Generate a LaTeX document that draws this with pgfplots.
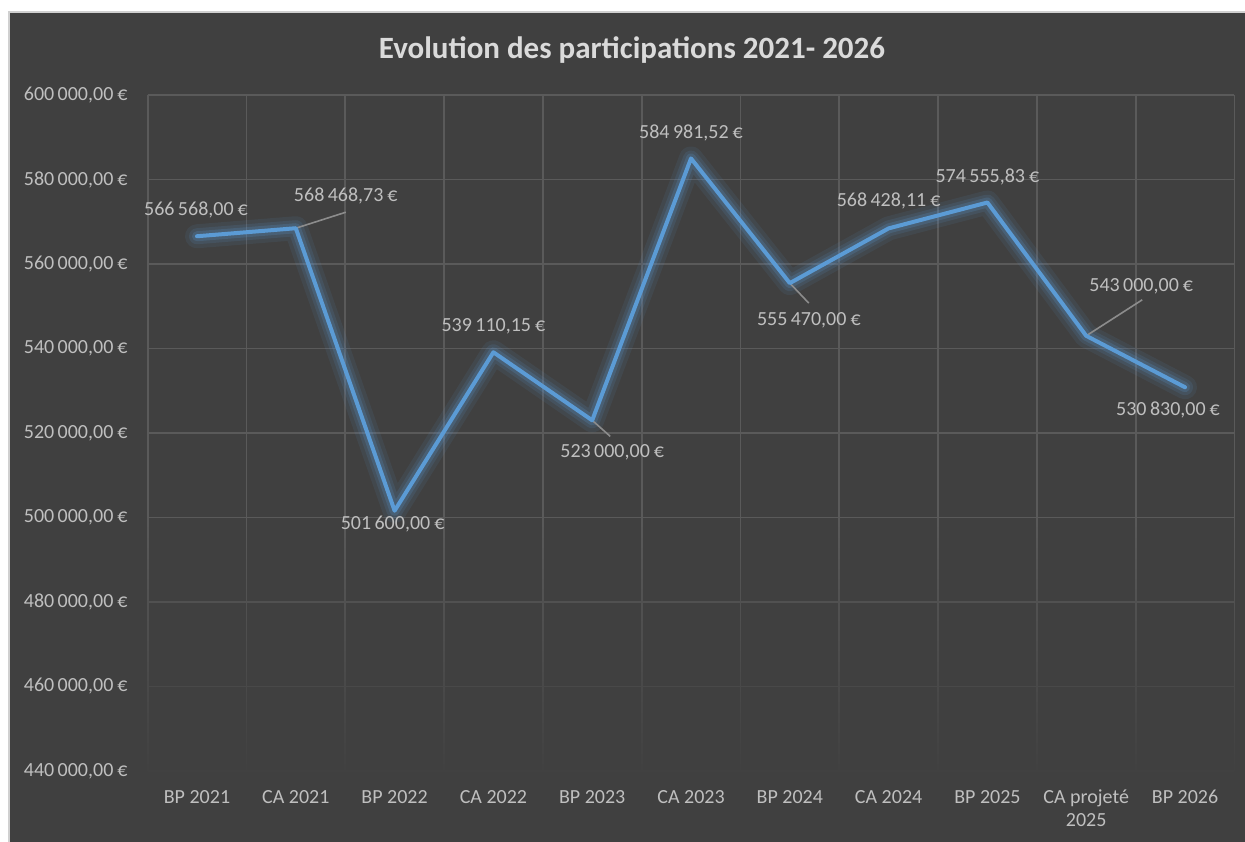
\documentclass[border=0pt]{standalone}
\usepackage{pgfplots}
\pgfplotsset{compat=1.18}
\usepackage{fontspec}
\setmainfont{Carlito}
\usetikzlibrary{fadings}

\definecolor{bgdark}{HTML}{404040}
\definecolor{gridgray}{HTML}{5A5A5A}
\definecolor{txtgray}{HTML}{BFBFBF}
\definecolor{titlegray}{HTML}{DADADA}
\definecolor{lineblue}{HTML}{5B9BD5}
\definecolor{leader}{HTML}{8C8C8C}
\definecolor{framegray}{HTML}{D0D0D0}

\begin{document}
\begin{tikzpicture}[x=0.5pt,y=0.5pt]
\clip (0,0) rectangle (1245,841);
\fill[white] (0,0) rectangle (1245,841);
\fill[bgdark] (9,-10) rectangle (1260,829);
\draw[framegray, line width=1pt] (9,-10) -- (9,829) -- (1260,829);

\node[font=\bfseries\fontsize{15.5}{18}\selectfont, text=titlegray] at (632,791)
  {Evolution des participations 2021- 2026};

\begin{axis}[
  at={(73.8pt,35pt)}, anchor=south west,
  scale only axis, width=543.4pt, height=338pt,
  xmin=-0.5, xmax=10.5, ymin=440000, ymax=600000,
  axis line style={draw=none},
  major tick length=0pt, minor tick length=0pt,
  xtick={0,1,...,10},
  minor xtick={-0.5,0.5,...,10.5},
  xmajorgrids=false, xminorgrids=true, ymajorgrids=true,
  grid style={gridgray, line width=0.9pt},
  minor grid style={gridgray, line width=0.9pt},
  xticklabels={BP 2021, CA 2021, BP 2022, CA 2022, BP 2023, CA 2023, BP 2024, CA 2024, BP 2025, {CA projeté\\2025}, BP 2026},
  xticklabel style={anchor=north, yshift=-6pt, align=center, text=txtgray, font=\fontsize{10}{11.5}\selectfont},
  ytick={440000,460000,...,600000},
  scaled y ticks=false,
  yticklabel style={anchor=east, xshift=-6.5pt, text=txtgray, font=\fontsize{10}{12}\selectfont},
  /pgf/number format/assume math mode=true,
  yticklabel={\pgfmathprintnumber[fixed, fixed zerofill, precision=2, use comma, 1000 sep={\kern0.17em}]{\tick}\kern0.2em€},
  clip=false,
]
% fade of the grid towards the bottom
\fill[bgdark, path fading=north] (axis cs:-0.55,437000) rectangle (axis cs:10.55,500000);

\addplot[lineblue, opacity=0.09, line width=12pt, line join=round, line cap=round, forget plot] coordinates {
  (0,566568) (1,568468.73) (2,501600) (3,539110.15) (4,523000) (5,584981.52)
  (6,555470) (7,568428.11) (8,574555.83) (9,543000) (10,530830)};
\addplot[lineblue, opacity=0.13, line width=8pt, line join=round, line cap=round, forget plot] coordinates {
  (0,566568) (1,568468.73) (2,501600) (3,539110.15) (4,523000) (5,584981.52)
  (6,555470) (7,568428.11) (8,574555.83) (9,543000) (10,530830)};
\addplot[lineblue, opacity=0.2, line width=5pt, line join=round, line cap=round, forget plot] coordinates {
  (0,566568) (1,568468.73) (2,501600) (3,539110.15) (4,523000) (5,584981.52)
  (6,555470) (7,568428.11) (8,574555.83) (9,543000) (10,530830)};

% leader lines
\draw[leader, line width=0.8pt] (axis cs:1,568468.73) -- ++(25pt,8pt);
\draw[leader, line width=0.8pt] (axis cs:4,523000) -- ++(9pt,-8pt);
\draw[leader, line width=0.8pt] (axis cs:6,555470) -- ++(9.5pt,-10pt);
\draw[leader, line width=0.8pt] (axis cs:9,543000) -- ++(28pt,18pt);

\addplot[lineblue, line width=2pt, line join=round, line cap=round] coordinates {
  (0,566568) (1,568468.73) (2,501600) (3,539110.15) (4,523000) (5,584981.52)
  (6,555470) (7,568428.11) (8,574555.83) (9,543000) (10,530830)};

% data labels
\begin{scope}[every node/.style={text=txtgray, font=\fontsize{10}{12}\selectfont, inner sep=0pt}]
\node at ([shift={(-0.5pt,13pt)}]axis cs:0,566568) {566\kern0.17em568,00\kern0.2em€};
\node at ([shift={(25pt,16pt)}]axis cs:1,568468.73) {568\kern0.17em468,73\kern0.2em€};
\node at ([shift={(-1pt,-6.5pt)}]axis cs:2,501600) {501\kern0.17em600,00\kern0.2em€};
\node at ([shift={(0pt,13pt)}]axis cs:3,539110.15) {539\kern0.17em110,15\kern0.2em€};
\node at ([shift={(10pt,-16pt)}]axis cs:4,523000) {523\kern0.17em000,00\kern0.2em€};
\node at ([shift={(0pt,13pt)}]axis cs:5,584981.52) {584\kern0.17em981,52\kern0.2em€};
\node at ([shift={(9.5pt,-18.5pt)}]axis cs:6,555470) {555\kern0.17em470,00\kern0.2em€};
\node at ([shift={(0pt,13.5pt)}]axis cs:7,568428.11) {568\kern0.17em428,11\kern0.2em€};
\node at ([shift={(0pt,13pt)}]axis cs:8,574555.83) {574\kern0.17em555,83\kern0.2em€};
\node at ([shift={(27.5pt,25pt)}]axis cs:9,543000) {543\kern0.17em000,00\kern0.2em€};
\node at ([shift={(-8.5pt,-11.5pt)}]axis cs:10,530830) {530\kern0.17em830,00\kern0.2em€};
\end{scope}
\end{axis}
\end{tikzpicture}
\end{document}
